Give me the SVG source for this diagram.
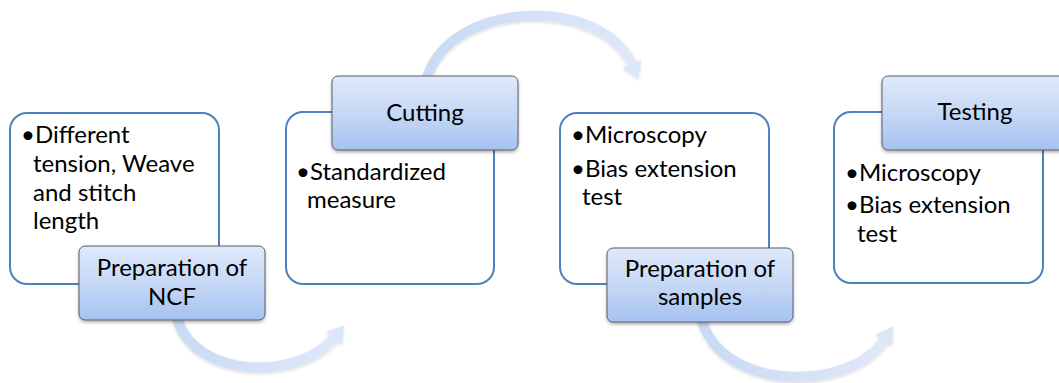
<svg xmlns="http://www.w3.org/2000/svg" width="1059" height="383" viewBox="0 0 1059 383">
  <defs>
    <linearGradient id="labelFill" x1="0" y1="0" x2="0" y2="1">
      <stop offset="0" stop-color="#dfe9fa"/>
      <stop offset="0.5" stop-color="#c6d8f6"/>
      <stop offset="1" stop-color="#a5c2f1"/>
    </linearGradient>
    <linearGradient id="arrowFill" x1="0" y1="0" x2="1" y2="0">
      <stop offset="0" stop-color="#c9daf5"/>
      <stop offset="1" stop-color="#dfe8f9"/>
    </linearGradient>
    <filter id="shadow" x="-10%" y="-10%" width="120%" height="130%">
      <feDropShadow dx="0" dy="2" stdDeviation="1.5" flood-color="#000" flood-opacity="0.3"/>
    </filter>
    <filter id="arrowShadow" x="-10%" y="-10%" width="120%" height="130%">
      <feDropShadow dx="0" dy="1.5" stdDeviation="1.5" flood-color="#000" flood-opacity="0.15"/>
    </filter>
  </defs>
  <style>
    .panel { fill: #ffffff; stroke: #4f81bd; stroke-width: 2; }
    .label { fill: url(#labelFill); stroke: #5a5f66; stroke-width: 1; filter: url(#shadow); }
    .arc { fill: none; stroke: url(#arrowFill); stroke-width: 10; }
    .head { fill: #dbe6f8; }
    text { font-family: Lato, "Open Sans", sans-serif; font-size: 24px; fill: #000; }
    .c { text-anchor: middle; }
  </style>

  <!-- connectors: curved block arrows between the stages -->
  <g id="connectors" filter="url(#arrowShadow)">
    <g id="arrow-ncf-cutting">
      <path class="arc" d="M177,318 C195,380 300,380 334,338"/>
      <polygon class="head" points="341.8,344.3 326.2,331.7 344,325.6"/>
    </g>
    <g id="arrow-cutting-samples">
      <path class="arc" d="M427,78 C450,0 600,-5 632,64"/>
      <polygon class="head" points="641.1,59.8 622.9,68.2 638.7,78.5"/>
    </g>
    <g id="arrow-samples-testing">
      <path class="arc" d="M702,320 C722,392 850,392 884,340"/>
      <polygon class="head" points="892.4,345.5 875.6,334.5 892.8,326.6"/>
    </g>
  </g>

  <!-- stage 1 -->
  <g id="node-ncf">
    <rect class="panel" x="10" y="113" width="209" height="171" rx="17"/>
    <text x="21" y="143">•Different</text>
    <text x="33" y="172">tension, Weave</text>
    <text x="33" y="201">and stitch</text>
    <text x="33" y="229">length</text>
    <rect class="label" x="79" y="246" width="186" height="74" rx="6"/>
    <text class="c" x="172" y="276">Preparation of</text>
    <text class="c" x="172" y="305">NCF</text>
  </g>

  <!-- stage 2 -->
  <g id="node-cutting">
    <rect class="panel" x="286" y="112" width="208" height="172" rx="17"/>
    <text x="296" y="180">•Standardized</text>
    <text x="307" y="208">measure</text>
    <rect class="label" x="332" y="76" width="186" height="74" rx="6"/>
    <text class="c" x="425" y="121">Cutting</text>
  </g>

  <!-- stage 3 -->
  <g id="node-samples">
    <rect class="panel" x="560" y="113" width="209" height="171" rx="17"/>
    <text x="571" y="143">•Microscopy</text>
    <text x="571" y="177">•Bias extension</text>
    <text x="582" y="205">test</text>
    <rect class="label" x="607" y="248" width="186" height="74" rx="6"/>
    <text class="c" x="700" y="277">Preparation of</text>
    <text class="c" x="700" y="305">samples</text>
  </g>

  <!-- stage 4 -->
  <g id="node-testing">
    <rect class="panel" x="834" y="112" width="209" height="171" rx="17"/>
    <text x="845" y="181">•Microscopy</text>
    <text x="845" y="213">•Bias extension</text>
    <text x="857" y="242">test</text>
    <rect class="label" x="882" y="76" width="186" height="74" rx="6"/>
    <text class="c" x="975" y="120">Testing</text>
  </g>
</svg>
